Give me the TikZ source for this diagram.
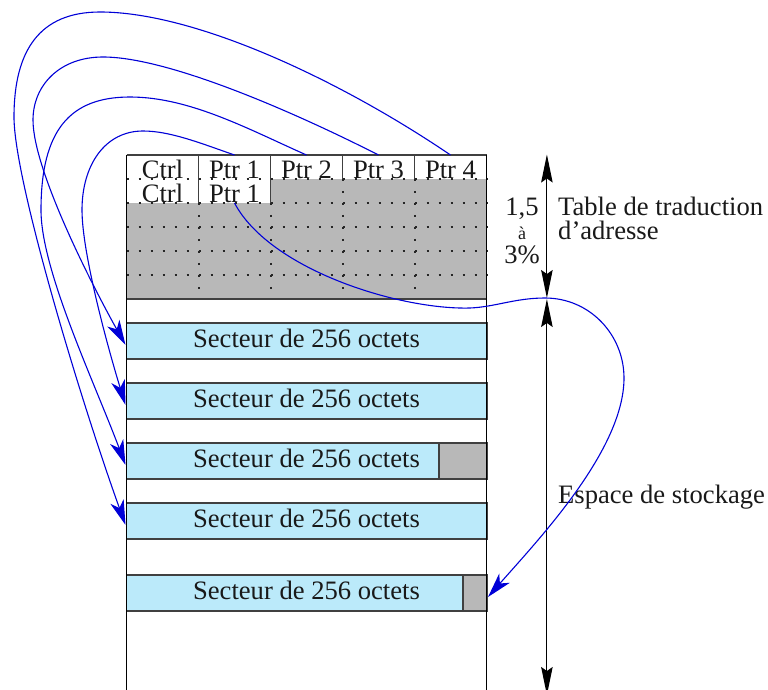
\documentclass[tikz,border=0pt]{standalone}
\usepackage{fontspec}
\setmainfont{Liberation Serif}
\usetikzlibrary{arrows.meta}
\definecolor{sky}{RGB}{187,234,250}
\definecolor{gr}{RGB}{184,184,184}
\definecolor{bl}{RGB}{0,0,215}
\tikzset{
 x=1pt,y=-1pt,
 txt/.style={inner sep=0pt,font=\fontsize{26.6}{28}\selectfont,text=black!90},
 frame/.style={line width=1.2pt,black!75},
 sect/.style={draw=black!75,line width=1.2pt,fill=sky},
 grbox/.style={draw=black!75,line width=1.2pt,fill=gr},
 griddot/.style={line width=1.6pt,black!85,dash pattern=on 2pt off 10pt},
 link/.style={bl,line width=1.1pt,-{Stealth[length=25pt,width=14pt,inset=7pt]}},
 dim/.style={black,line width=1.1pt,{Stealth[length=28pt,width=11.5pt,inset=4pt]}-{Stealth[length=28pt,width=11.5pt,inset=4pt]}},
}
\begin{document}
\begin{tikzpicture}
\useasboundingbox (0,0) rectangle (768,690);
\begin{scope}[shift={(0.2,0.2)}]
% grey area
\fill[gr] (270.5,178.7) rectangle (486.7,298.7);
\fill[gr] (126.5,202.7) rectangle (270.5,298.7);
% dotted grid
\draw[griddot] (126.5,178.7) -- (486.7,178.7);
\foreach \y in {202.7,226.7,250.7,274.7}{\draw[griddot] (126.5,\y) -- (486.7,\y);}
\foreach \x in {198.5,270.5}{\draw[griddot] (\x,202.7) -- (\x,298.7);}
\foreach \x in {342.5,414.5}{\draw[griddot] (\x,178.7) -- (\x,298.7);}
% table outline
\draw[frame] (126.5,154.7) -- (486.7,154.7) (126.5,298.7) -- (486.7,298.7);
\foreach \x in {198.5,270.5,342.5,414.5}{\draw[frame] (\x,154.7) -- (\x,178.7);}
\draw[frame] (198.5,178.7) -- (198.5,202.7) (270.5,178.7) -- (270.5,202.7);
% sectors
\foreach \y in {322.7,382.7,442.7,502.7,574.7}{\draw[sect] (126.5,\y) rectangle (486.7,\y+36);}
\draw[grbox] (438.7,442.7) rectangle (486.7,478.7);
\draw[grbox] (462.7,574.7) rectangle (486.7,610.7);
% long verticals
\draw[black,line width=1.1pt] (126.5,154.7) -- (126.5,690);
\draw[black,line width=1.1pt] (486.7,154.7) -- (486.7,690);
\end{scope}
% labels
\foreach \x/\t/\n in {162.5/Ctrl/c1,234.5/Ptr 1/p1,306.5/Ptr 2/p2,378.5/Ptr 3/p3,450.5/Ptr 4/p4}
  {\node[txt,anchor=base] (\n) at (\x,178) {\t};}
\node[txt,anchor=base] (c0) at (162.5,202) {Ctrl};
\node[txt,anchor=base] (p0) at (234.5,202) {Ptr 1};
\foreach \y/\n in {347/s1,407/s2,467/s3,527/s4,599/s5}
  {\node[txt,anchor=base] (\n) at (306.5,\y) {Secteur de 256 octets};}
\node[txt,anchor=base] (a) at (522,215) {1,5};
\node[txt,anchor=base,font=\fontsize{18}{19}\selectfont] (b) at (522,239) {à};
\node[txt,anchor=base] (c) at (522,263) {3\%};
\node[txt,anchor=base west] (t1) at (558,215) {Table de traduction};
\node[txt,anchor=base west] (t2) at (558,239) {d’adresse};
\node[txt,anchor=base west] (e) at (558,503) {Espace de stockage};
% dims
\coordinate (d1) at (546.9,154.5); \coordinate (d2a) at (546.9,298); \coordinate (d2b) at (546.9,299); \coordinate (d3) at (546.9,695);
\draw[dim] (d1) -- (d2a);
\draw[dim] (d2b) -- (d3);
% anchors of the curves
\coordinate (f4) at (450.5,155); \coordinate (f3) at (378.5,155);
\coordinate (f2) at (306.5,155); \coordinate (f1) at (234.5,155);
\coordinate (f0) at (234.5,203);
\coordinate (t1a) at (125.5,345); \coordinate (t2a) at (125.5,405);
\coordinate (t3a) at (125.5,465); \coordinate (t4a) at (125.5,525);
\coordinate (t5a) at (488,597);
% curves
\draw[link] (f4) .. controls (340,80) and (195,12) .. (100,12) .. controls (40,12) and (14,50) .. (14,117) .. controls (14,180) and (80.5,400) .. (t4a);
\draw[link] (f3) .. controls (300,115) and (170,57) .. (103,57) .. controls (60,57) and (33,85) .. (33,120) .. controls (33,170) and (92,285) .. (t1a);
\draw[link] (f2) .. controls (250,130) and (190,97) .. (130,97) .. controls (70,97) and (41,130) .. (41,210) .. controls (41,270) and (93.5,380) .. (t3a);
\draw[link] (f1) .. controls (200,143) and (170,131) .. (143,131) .. controls (105,131) and (82,165) .. (82,210) .. controls (82,255) and (110,355) .. (t2a);
\draw[link] (f0) .. controls (270,270) and (400,310) .. (470,308) .. controls (495,307) and (515,298) .. (545,298) .. controls (590,298) and (624,335) .. (624,378) .. controls (624,450) and (538,540) .. (t5a);
\end{tikzpicture}
\end{document}
